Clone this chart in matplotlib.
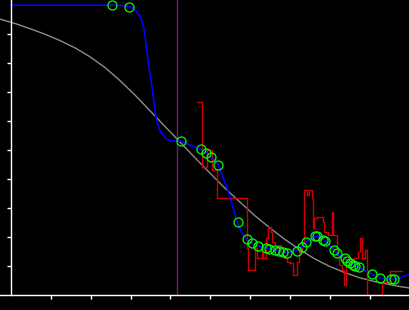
import numpy as np
import matplotlib
matplotlib.use("Agg")
import matplotlib.pyplot as plt

# fitted sigmoid-like reference curve (gray)
gray_x = [-2.68, 1.08, 4.83, 8.59, 12.35, 16.10, 19.86, 23.62, 27.37, 31.13, 34.89, 38.64,
          42.40, 46.16, 49.91, 53.67, 57.43, 61.18, 64.94, 68.70, 72.45, 76.21, 79.97,
          83.72, 87.48, 91.24, 94.99, 97.50, 100.0]
gray_y = [9.51, 9.36, 9.18, 8.99, 8.77, 8.52, 8.21, 7.84, 7.39, 6.89, 6.35, 5.81,
          5.27, 4.73, 4.20, 3.68, 3.20, 2.73, 2.31, 1.91, 1.56, 1.24, 0.98,
          0.77, 0.59, 0.46, 0.36, 0.29, 0.24]

# smoothed curve (blue)
blue_x = [0.0, 25.3, 28.4, 29.5, 30.6, 31.6, 32.6, 33.4, 33.9, 34.4, 34.9, 35.4, 35.9, 36.3,
          36.6, 37.1, 37.9, 38.9, 40.1, 42.6, 44.9, 47.7, 49.0, 50.2, 52.0, 53.9, 54.9, 55.7,
          56.8, 57.9, 59.05, 60.3, 61.9, 63.9, 64.8, 66.2, 67.2, 68.3, 69.3, 71.6, 72.9, 74.0,
          76.1, 76.8, 78.2, 78.8, 81.0, 81.8, 83.6, 84.2, 84.9, 85.6, 86.3, 87.1, 90.6, 92.6,
          95.3, 96.0, 97.5, 100.0]
blue_y = [9.99, 9.99, 9.98, 9.94, 9.90, 9.76, 9.55, 9.14, 8.62, 8.10, 7.59, 7.14, 6.62, 6.21,
          5.97, 5.76, 5.55, 5.38, 5.31, 5.31, 5.17, 5.02, 4.90, 4.75, 4.48, 3.79, 3.38, 3.00,
          2.50, 2.14, 1.92, 1.79, 1.69, 1.63, 1.59, 1.55, 1.52, 1.48, 1.46, 1.53, 1.66, 1.82,
          2.02, 2.02, 1.91, 1.87, 1.55, 1.44, 1.26, 1.17, 1.11, 1.05, 1.00, 0.96, 0.71, 0.59,
          0.54, 0.54, 0.59, 0.72]

# sampled points (green circles)
pts_x = [25.3, 29.5, 42.6, 47.7, 49.0, 50.2, 52.0, 56.8, 59.05, 60.3, 61.9, 63.9, 64.8, 66.2,
         67.2, 68.3, 69.3, 71.6, 72.9, 74.0, 76.1, 76.8, 78.2, 78.8, 81.0, 81.8, 83.6, 84.2,
         84.9, 85.6, 86.3, 87.1, 90.6, 92.6, 95.3, 96.0]
pts_y = [9.99, 9.94, 5.31, 5.02, 4.90, 4.75, 4.48, 2.50, 1.92, 1.79, 1.69, 1.63, 1.59, 1.55,
         1.52, 1.48, 1.46, 1.53, 1.66, 1.82, 2.02, 2.02, 1.91, 1.87, 1.55, 1.44, 1.26, 1.17,
         1.11, 1.05, 1.00, 0.96, 0.71, 0.59, 0.54, 0.54]

# raw measurements (red, steps)
raw_x = [46.73, 47.83, 49.09, 50.34, 51.59, 59.10, 59.50, 61.18, 61.61, 62.86, 63.26, 63.86,
         64.51, 65.19, 65.51, 66.19, 67.02, 67.69, 68.52, 69.12, 69.95, 70.62, 71.63, 72.20,
         72.88, 73.45, 74.13, 74.78, 75.38, 75.78, 76.03, 76.63, 78.14, 78.54, 79.39, 80.39,
         80.79, 81.64, 82.22, 82.90, 83.47, 83.90, 84.72, 86.05, 87.05, 87.48, 87.90, 88.73,
         89.16, 93.06, 94.99, 97.92]
raw_y = [6.64, 4.42, 5.00, 4.31, 3.33, 1.61, 0.86, 1.61, 1.27, 1.49, 1.27, 1.96,
         2.36, 2.18, 1.84, 1.61, 1.72, 1.38, 1.27, 1.15, 1.09, 0.69, 1.15, 1.49,
         1.84, 3.62, 3.45, 3.62, 3.33, 2.30, 2.64, 2.70, 2.53, 2.18, 2.07, 2.87,
         2.07, 1.38, 1.03, 0.86, 0.34, 1.03, 1.15, 1.27, 1.49, 1.96, 1.27, 1.55,
         0.00, 0.46, 0.83, 0.83]

cut_x = 41.7

fig = plt.figure(figsize=(4.1, 3.1), dpi=100, facecolor="black")
ax = fig.add_axes([0, 15 / 310, 1, 295 / 310], facecolor="black")

ax.plot(gray_x, gray_y, color="#8c8c8c", lw=1.0)
ax.axvline(cut_x, color="#7a1a7a", lw=1.0)
ax.step(raw_x, raw_y, where="post", color="#d00000", lw=1.0)
ax.plot(blue_x, blue_y, color="#0000ff", lw=1.2)
ax.plot(pts_x, pts_y, "o", mfc="none", mec="#00ff00", ms=6.5, mew=0.9)

ax.set_xlim(-2.7, 100)
ax.set_ylim(0, 10.17)
ax.spines["left"].set_position(("data", 0))
for s in ["top", "right"]:
    ax.spines[s].set_visible(False)
for s in ["left", "bottom"]:
    ax.spines[s].set_color("white")
    ax.spines[s].set_linewidth(1.0)
ax.set_xticks(np.arange(10, 100, 10))
ax.set_yticks(np.arange(1, 10))
ax.tick_params(colors="white", length=3, width=1.0, labelbottom=False, labelleft=False)

fig.savefig("out.png", dpi=100, facecolor="black")
